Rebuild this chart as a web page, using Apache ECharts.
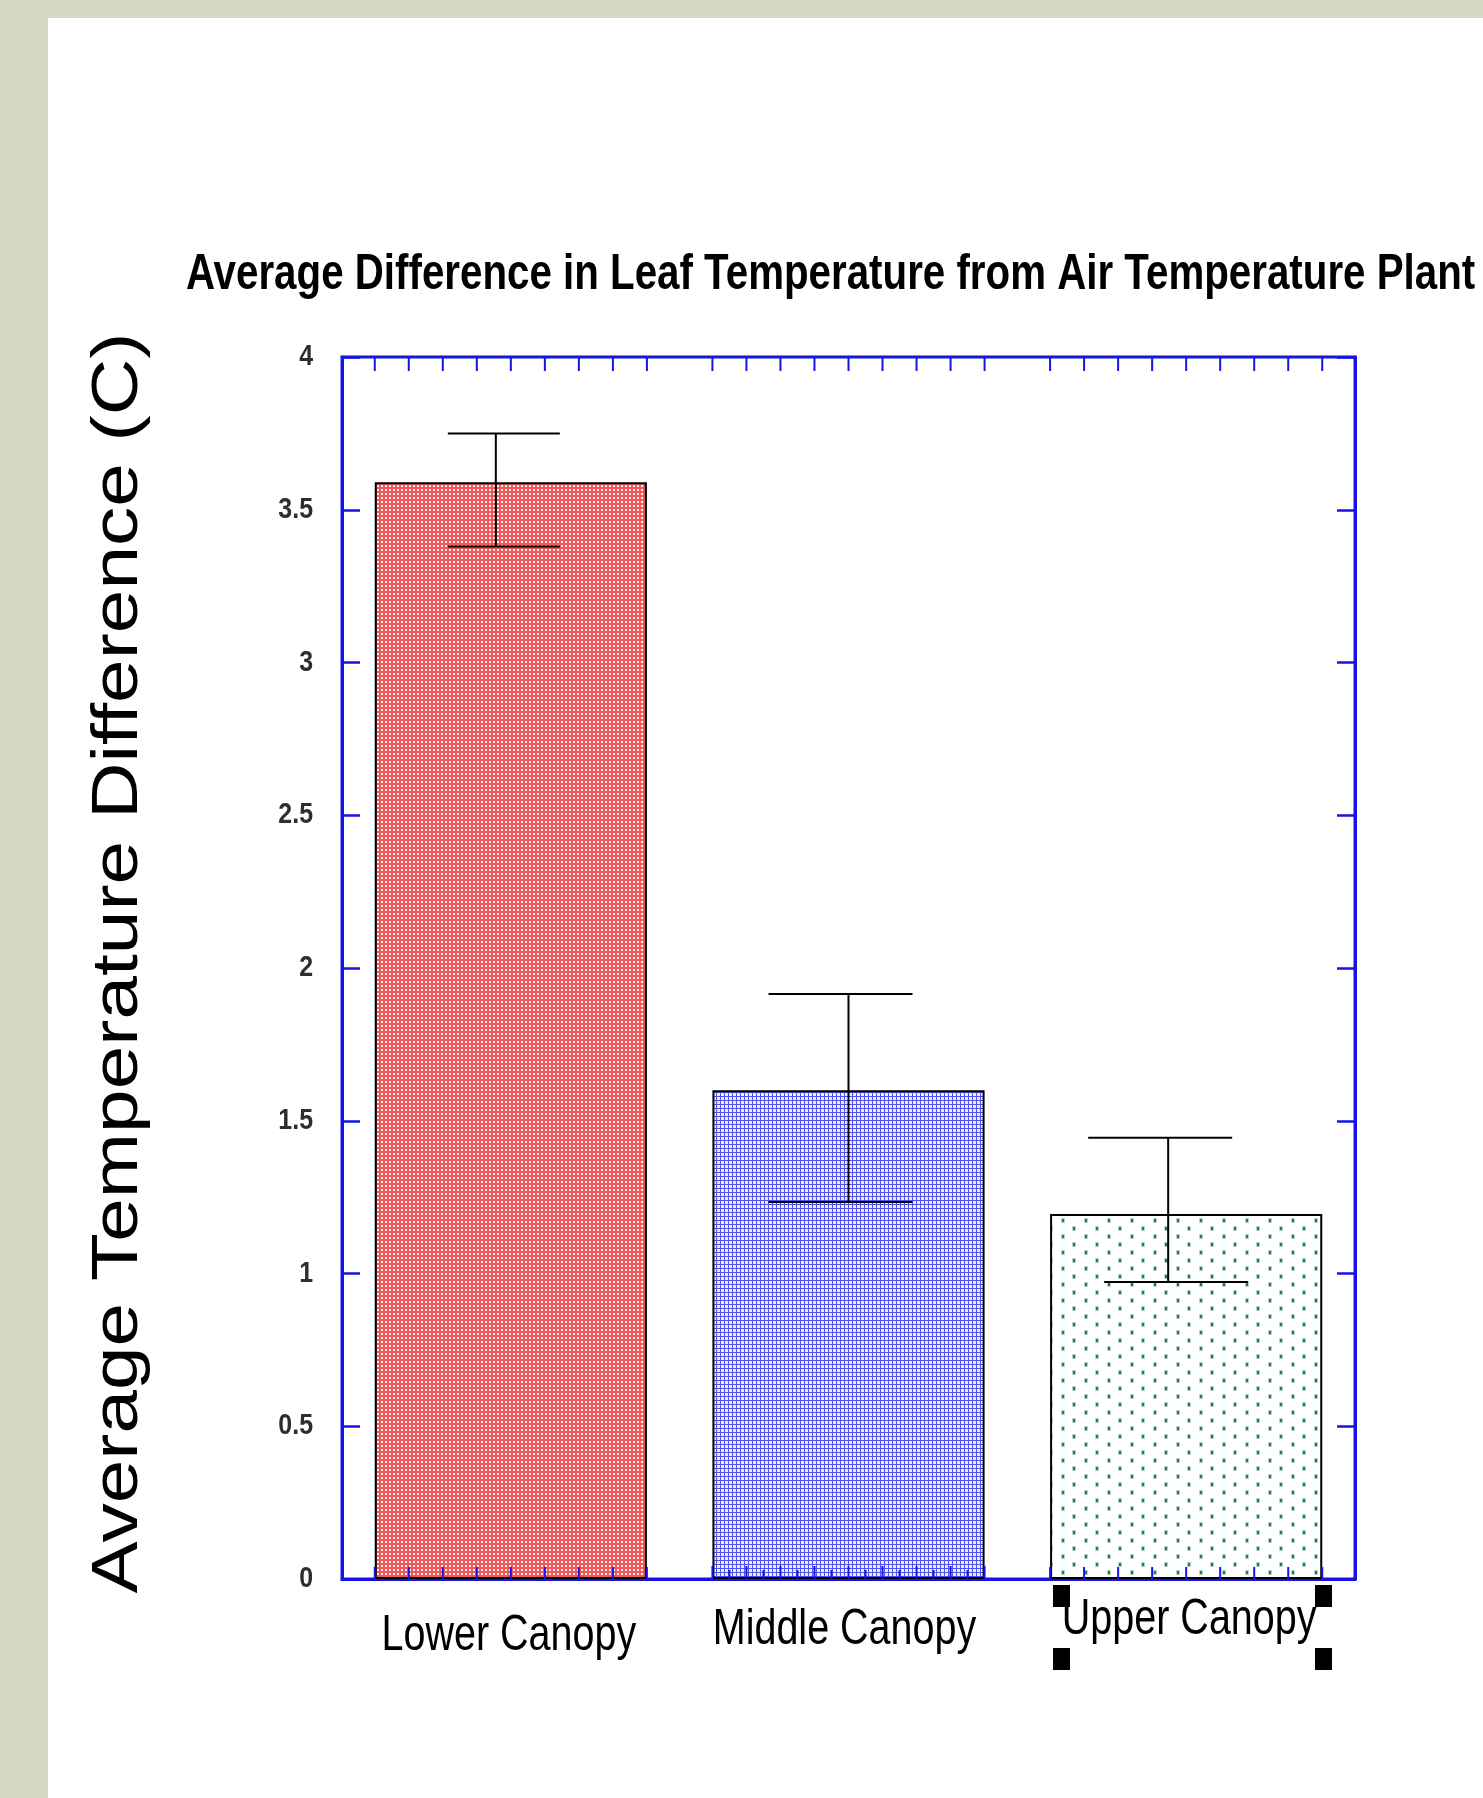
<!DOCTYPE html>
<html>
<head>
<meta charset="utf-8">
<script src="https://cdn.jsdelivr.net/npm/echarts@6/dist/echarts.min.js"></script>
<style>
  html, body { margin: 0; padding: 0; background: #d6d8c4; }
  #panel { position: absolute; left: 48px; top: 18px; width: 1435px; height: 1780px; background: #ffffff; }
  #chart { position: absolute; left: 0; top: 0; width: 1483px; height: 1798px; }
</style>
</head>
<body>
<div id="panel"></div>
<div id="chart"></div>
<script>
// ---- data ----
const categories = ['Lower Canopy', 'Middle Canopy', 'Upper Canopy'];
const meanValues = [3.59, 1.60, 1.195];
const errorHigh = [3.75, 1.915, 1.444];
const errorLow = [3.38, 1.234, 0.972];
const yTickLabels = ['0', '0.5', '1', '1.5', '2', '2.5', '3', '3.5', '4'];
const titleText = 'Average Difference in Leaf Temperature from Air Temperature Plant';
const yAxisTitle = 'Average Temperature Difference (C)';

// ---- styles ----
const AXIS_BLUE = '#1414e6';
const SANS = "'Liberation Sans', Arial, sans-serif";
const BAR_WIDTH_FRAC = 0.806;
const errStyle = {
  stemOffset: [-15, 0, -18],
  topCapOffset: [-7, -8, -26],
  bottomCapOffset: [-7, -8, -10],
  capWidth: [112, 144, 144]
};
const bottomTickCounts = [9, 17, 9];
const xLabelStyle = { dx: [-2, -4, 3], baselineDy: [75, 69, 59], fontSize: 50, scaleX: 0.79 };

function makePattern(w, h, draw) {
  const c = document.createElement('canvas');
  c.width = w; c.height = h;
  const g = c.getContext('2d');
  draw(g);
  return { image: c, repeat: 'repeat' };
}
const redPattern = makePattern(4, 4, g => {
  g.fillStyle = 'rgb(238,90,90)'; g.fillRect(0, 0, 4, 4);
  g.fillStyle = 'rgb(255,238,238)'; g.fillRect(1, 1, 2, 2);
});
const bluePattern = makePattern(4, 4, g => {
  g.fillStyle = 'rgb(236,236,255)'; g.fillRect(0, 0, 4, 4);
  g.fillStyle = 'rgb(80,80,236)'; g.fillRect(0, 0, 1, 4); g.fillRect(1, 0, 3, 1);
});
const greenPattern = makePattern(23, 16, g => {
  g.fillStyle = '#ffffff'; g.fillRect(0, 0, 23, 16);
  const dot = (x, y) => {
    g.fillStyle = 'rgba(46,139,87,0.35)'; g.fillRect(x - 1, y - 1, 4, 5);
    g.fillStyle = '#1f7a45'; g.fillRect(x, y, 2, 3);
  };
  dot(4, 3); dot(15, 11);
});
const barFills = [redPattern, bluePattern, greenPattern];

const chart = echarts.init(document.getElementById('chart'), null, { renderer: 'canvas' });

const option = {
  backgroundColor: 'transparent',
  animation: false,
  grid: {
    left: 342, right: 128, top: 357, bottom: 219,
    show: true, borderColor: AXIS_BLUE, borderWidth: 3, backgroundColor: 'transparent'
  },
  xAxis: {
    type: 'category',
    data: categories,
    axisLine: { show: true, lineStyle: { color: AXIS_BLUE, width: 3 } },
    axisTick: { show: false },
    axisLabel: { show: false },
    splitLine: { show: false }
  },
  yAxis: [{
    type: 'value', min: 0, max: 4, interval: 0.5,
    axisLine: { show: true, lineStyle: { color: AXIS_BLUE, width: 3 } },
    axisTick: { show: true, inside: true, length: 18, lineStyle: { color: AXIS_BLUE, width: 2.5 } },
    axisLabel: { show: false },
    splitLine: { show: false }
  }, {
    type: 'value', min: 0, max: 4, interval: 0.5, position: 'right',
    axisLine: { show: true, lineStyle: { color: AXIS_BLUE, width: 3 } },
    axisTick: { show: true, inside: true, length: 18, lineStyle: { color: AXIS_BLUE, width: 2.5 } },
    axisLabel: { show: false },
    splitLine: { show: false }
  }],
  graphic: [
    { type: 'text', x: 186, y: 275, scaleX: 0.806,
      style: { text: titleText, x: 0, y: 0, align: 'left', verticalAlign: 'middle',
               font: 'bold 50px ' + SANS, fill: '#000' } },
    { type: 'text', x: 119, y: 963, rotation: Math.PI / 2, scaleX: 1.225,
      style: { text: yAxisTitle, x: 0, y: 0, align: 'center', verticalAlign: 'middle',
               font: '64px ' + SANS, fill: '#000' } },
    { type: 'rect', shape: { x: 1053, y: 1585, width: 17, height: 22 }, style: { fill: '#000' } },
    { type: 'rect', shape: { x: 1315, y: 1585, width: 17, height: 22 }, style: { fill: '#000' } },
    { type: 'rect', shape: { x: 1053, y: 1648, width: 17, height: 22 }, style: { fill: '#000' } },
    { type: 'rect', shape: { x: 1315, y: 1648, width: 17, height: 22 }, style: { fill: '#000' } }
  ],
  series: [
    {
      type: 'bar',
      barWidth: (BAR_WIDTH_FRAC * 100) + '%',
      data: meanValues.map((v, i) => ({ value: v, itemStyle: { color: barFills[i] } })),
      itemStyle: { borderColor: '#000', borderWidth: 2 },
      z: 2
    },
    {
      // tick marks along top / bottom edges spanning each bar
      type: 'custom',
      z: 4,
      data: categories.map((c, i) => [i]),
      renderItem: (params, api) => {
        const i = api.value(0);
        const base = api.coord([i, 0]);
        const top = api.coord([i, 4]);
        const band = api.size([1, 0])[0];
        const bw = band * BAR_WIDTH_FRAC;
        const left = base[0] - bw / 2;
        const children = [];
        for (let k = 0; k < 9; k++) {
          const x = left + bw * k / 8;
          children.push({ type: 'line', shape: { x1: x, y1: top[1], x2: x, y2: top[1] + 14 },
            style: { stroke: AXIS_BLUE, lineWidth: 2 } });
        }
        const n = bottomTickCounts[i];
        for (let k = 0; k < n; k++) {
          const x = left + bw * k / (n - 1);
          const len = n > 9 ? (k % 2 ? 9 : 13) : 12;
          children.push({ type: 'line', shape: { x1: x, y1: base[1], x2: x, y2: base[1] - len },
            style: { stroke: AXIS_BLUE, lineWidth: 2 } });
        }
        return { type: 'group', children };
      }
    },
    {
      // error bars
      type: 'custom',
      z: 5,
      data: categories.map((c, i) => [i, errorLow[i], errorHigh[i]]),
      renderItem: (params, api) => {
        const i = api.value(0);
        const lo = api.coord([i, api.value(1)]);
        const hi = api.coord([i, api.value(2)]);
        const cx = lo[0];
        const sx = cx + errStyle.stemOffset[i];
        const w = errStyle.capWidth[i] / 2;
        const tc = cx + errStyle.topCapOffset[i];
        const bc = cx + errStyle.bottomCapOffset[i];
        const st = { stroke: '#000', lineWidth: 2 };
        return { type: 'group', children: [
          { type: 'line', shape: { x1: sx, y1: hi[1], x2: sx, y2: lo[1] }, style: st },
          { type: 'line', shape: { x1: tc - w, y1: hi[1], x2: tc + w, y2: hi[1] }, style: st },
          { type: 'line', shape: { x1: bc - w, y1: lo[1], x2: bc + w, y2: lo[1] }, style: st }
        ] };
      }
    },
    {
      // category labels (condensed)
      type: 'custom',
      z: 6,
      data: categories.map((c, i) => [i, 0]),
      renderItem: (params, api) => {
        const i = api.value(0);
        const p = api.coord([i, 0]);
        return {
          type: 'text',
          x: p[0] + xLabelStyle.dx[i],
          y: p[1] + xLabelStyle.baselineDy[i] - 0.35 * xLabelStyle.fontSize,
          scaleX: xLabelStyle.scaleX,
          style: { text: categories[i], x: 0, y: 0, align: 'center', verticalAlign: 'middle',
                   font: xLabelStyle.fontSize + 'px ' + SANS, fill: '#000' }
        };
      }
    },
    {
      // value-axis tick labels (condensed)
      type: 'custom',
      z: 6,
      data: yTickLabels.map(t => [0, parseFloat(t)]),
      renderItem: (params, api) => {
        const p = api.coord([0, api.value(1)]);
        const left = params.coordSys.x;
        return {
          type: 'text',
          x: left - 29,
          y: p[1],
          scaleX: 0.86,
          style: { text: yTickLabels[params.dataIndex], x: 0, y: 0, align: 'right', verticalAlign: 'middle',
                   font: 'bold 29px ' + SANS, fill: '#2e2e2e' }
        };
      }
    }
  ]
};
chart.setOption(option);
</script>
</body>
</html>
